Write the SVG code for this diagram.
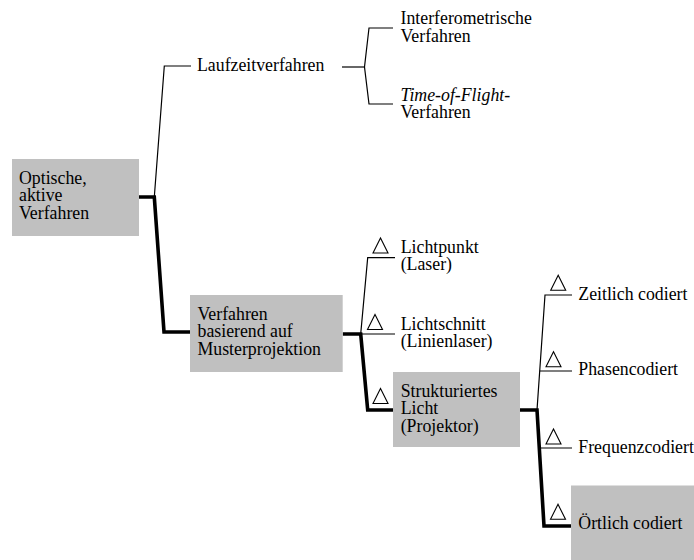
<svg xmlns="http://www.w3.org/2000/svg" xmlns:xlink="http://www.w3.org/1999/xlink" width="694" height="560" viewBox="0 0 694 560">
<style>
text{font-family:'Liberation Serif','Tinos','DejaVu Serif',serif;font-size:17.8px;fill:#000}
.box{fill:#c0c0c0;stroke:none}
.thin{fill:none;stroke:#000;stroke-width:1.2;stroke-linejoin:miter}
.thick{fill:none;stroke:#000;stroke-width:3.6;stroke-linejoin:miter}
.tri{fill:#fff;stroke:#000;stroke-width:1.1;stroke-linejoin:miter}
</style>
<defs>
<path id="tri" class="tri" d="M0,0 L7.5,-15 L15,0 Z"/>
</defs>
<rect width="694" height="560" fill="#fff"/>
<g id="connectors">
<path class="thin" d="M191,66 H164.3 L154.3,197"/>
<path class="thin" d="M342,67 H364.5"/>
<path class="thin" d="M393,28 H369 L364.5,67 L369,104 H393"/>
<path class="thin" d="M395,257.7 H367.7 L360.7,334"/>
<path class="thin" d="M360.7,334 H395"/>
<path class="thin" d="M572,295 H545 L537,410"/>
<path class="thin" d="M539.8,371 H572"/>
<path class="thin" d="M539.3,448 H572"/>
<path class="thick" d="M139,197 H154.3 L164,332 H190"/>
<path class="thick" d="M342.7,334 H360.7 L367.7,410 H393"/>
<path class="thick" d="M520,410 H537 L544,526 H571"/>
</g>
<g id="node-optische">
<rect class="box" x="12" y="159" width="127" height="77"/>
<text x="19" y="184">Optische,</text>
<text x="19" y="201">aktive</text>
<text x="19" y="218.5">Verfahren</text>
</g>
<g id="node-laufzeit">
<text x="197" y="71">Laufzeitverfahren</text>
</g>
<g id="node-interfero">
<text x="400.5" y="24">Interferometrische</text>
<text x="400.5" y="41.5">Verfahren</text>
</g>
<g id="node-tof">
<text x="400.5" y="100.5" font-style="italic">Time-of-Flight-</text>
<text x="400.5" y="117.5">Verfahren</text>
</g>
<g id="node-muster">
<rect class="box" x="190" y="295" width="152.7" height="77"/>
<text x="197.5" y="319.5">Verfahren</text>
<text x="197.5" y="337">basierend auf</text>
<text x="197.5" y="354.5">Musterprojektion</text>
</g>
<g id="node-lichtpunkt">
<use xlink:href="#tri" x="373" y="253"/>
<text x="400.7" y="253.3">Lichtpunkt</text>
<text x="400.7" y="269.8">(Laser)</text>
</g>
<g id="node-lichtschnitt">
<use xlink:href="#tri" x="367.5" y="329.5"/>
<text x="400.7" y="330">Lichtschnitt</text>
<text x="400.7" y="346.5">(Linienlaser)</text>
</g>
<g id="node-strukturiert">
<rect class="box" x="393" y="372" width="127" height="75"/>
<use xlink:href="#tri" x="373" y="403.5"/>
<text x="400.7" y="397">Strukturiertes</text>
<text x="400.7" y="414">Licht</text>
<text x="400.7" y="431.5">(Projektor)</text>
</g>
<g id="node-zeitlich">
<use xlink:href="#tri" x="550.7" y="290.3"/>
<text x="578.3" y="300">Zeitlich codiert</text>
</g>
<g id="node-phasen">
<use xlink:href="#tri" x="546" y="366.7"/>
<text x="578.3" y="375">Phasencodiert</text>
</g>
<g id="node-frequenz">
<use xlink:href="#tri" x="546" y="444"/>
<text x="578.3" y="452.7">Frequenzcodiert</text>
</g>
<g id="node-oertlich">
<rect class="box" x="571" y="485.5" width="123" height="74.5"/>
<use xlink:href="#tri" x="550.5" y="519.3"/>
<text x="578.3" y="529">Örtlich codiert</text>
</g>
</svg>
